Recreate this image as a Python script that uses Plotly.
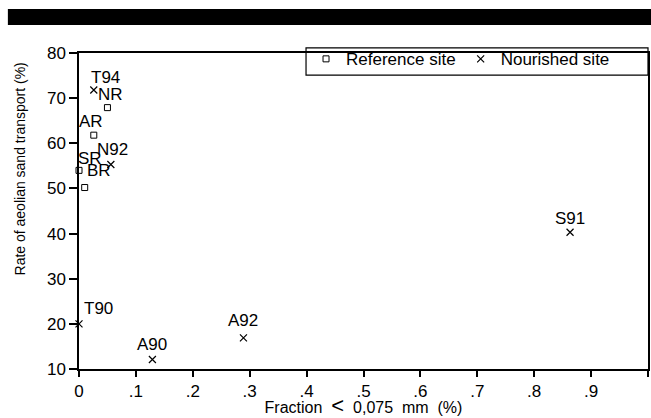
import plotly.graph_objects as go

# Reference sites (open squares)
ref_names = ["NR", "AR", "SR", "BR"]
ref_x = [0.050, 0.026, 0.0, 0.010]
ref_y = [67.9, 61.8, 54.0, 50.2]

# Nourished sites (crosses)
nour_names = ["T94", "N92", "S91", "T90", "A90", "A92"]
nour_x = [0.026, 0.056, 0.863, 0.0, 0.129, 0.289]
nour_y = [71.8, 55.3, 40.3, 20.0, 12.1, 16.9]

x_tickvals = [0, 0.1, 0.2, 0.3, 0.4, 0.5, 0.6, 0.7, 0.8, 0.9, 1.0]
x_ticktext = ["0", ".1", ".2", ".3", ".4", ".5", ".6", ".7", ".8", ".9", "1"]
y_tickvals = [10, 20, 30, 40, 50, 60, 70, 80]

# label offsets in pixels (style only)
ref_shift = [(3, -13), (-3, -14), (11, -12), (14, -17)]
nour_shift = [(12, -13), (2, -15), (0, -14), (19, -15), (0, -15), (0, -17)]

FONT = "Liberation Sans, Arial, sans-serif"
NB = "\u00a0"

fig = go.Figure()
fig.add_trace(go.Scatter(
    x=ref_x, y=ref_y, mode="markers",
    name="Reference site",
    marker=dict(symbol="square-open", size=6, color="black", line=dict(width=1)),
    cliponaxis=False,
))
fig.add_trace(go.Scatter(
    x=nour_x, y=nour_y, mode="markers",
    name="Nourished site" + NB * 7,
    marker=dict(symbol="x-thin-open", size=7, color="black", line=dict(width=1.2, color="black")),
    cliponaxis=False,
))

annotations = []
for names, xs, ys, shifts in ((ref_names, ref_x, ref_y, ref_shift),
                              (nour_names, nour_x, nour_y, nour_shift)):
    for n, xv, yv, (dx, dy) in zip(names, xs, ys, shifts):
        annotations.append(dict(
            x=xv, y=yv, xref="x", yref="y", text=n, showarrow=False,
            xanchor="center", yanchor="middle", xshift=dx, yshift=-dy,
            font=dict(size=17, color="black", family=FONT),
        ))

annotations.append(dict(
    text="Rate" + NB + "of" + NB + "aeolian" + NB + "sand" + NB + "transport" + NB + "(%)",
    xref="paper", yref="paper", x=-0.104, y=0.634, xanchor="center", yanchor="middle",
    textangle=-90, showarrow=False, font=dict(size=14, color="black", family=FONT),
))

fig.update_layout(
    width=651, height=418,
    margin=dict(l=79, r=3, t=53, b=49),
    paper_bgcolor="white", plot_bgcolor="white",
    font=dict(family=FONT, color="black", size=15),
    showlegend=True,
    legend=dict(
        orientation="h", x=0.399, xanchor="left", y=1.037, yanchor="top",
        borderwidth=0, bgcolor="rgba(0,0,0,0)",
        font=dict(size=17, family=FONT), itemwidth=30,
        tracegroupgap=0,
    ),
    xaxis=dict(
        range=[0, 1], tickvals=x_tickvals, ticktext=x_ticktext,
        showline=True, linecolor="black", linewidth=1.5, mirror=True,
        ticks="outside", ticklen=6, tickcolor="black", tickwidth=1.5,
        showgrid=False, zeroline=False, automargin=False,
        tickfont=dict(size=17),
        title=dict(
            text="Fraction" + NB * 2 + "<span style='font-size:22px'>&lt;</span>" + NB * 2
                 + "0,075" + NB * 2 + "mm" + NB * 2 + "(%)",
            font=dict(size=16), standoff=0),
    ),
    yaxis=dict(
        range=[10, 80], tickvals=y_tickvals,
        showline=True, linecolor="black", linewidth=1.5, mirror=True,
        ticks="outside", ticklen=8, tickcolor="black", tickwidth=1.5,
        showgrid=False, zeroline=False, automargin=False,
        tickfont=dict(size=17),
    ),
    annotations=annotations,
    shapes=[
        dict(type="rect", xref="paper", yref="paper",
             x0=-0.125, x1=1.01, y0=1.089, y1=1.139,
             fillcolor="black", line=dict(width=0)),
        dict(type="rect", xref="paper", yref="paper",
             x0=0.399, x1=1.0, y0=0.930, y1=1.016,
             fillcolor="white", line=dict(color="black", width=1.2), layer="below"),
    ],
)

fig.write_html("out.html", config={"displayModeBar": False},
               post_script="document.body.style.margin='0';")
